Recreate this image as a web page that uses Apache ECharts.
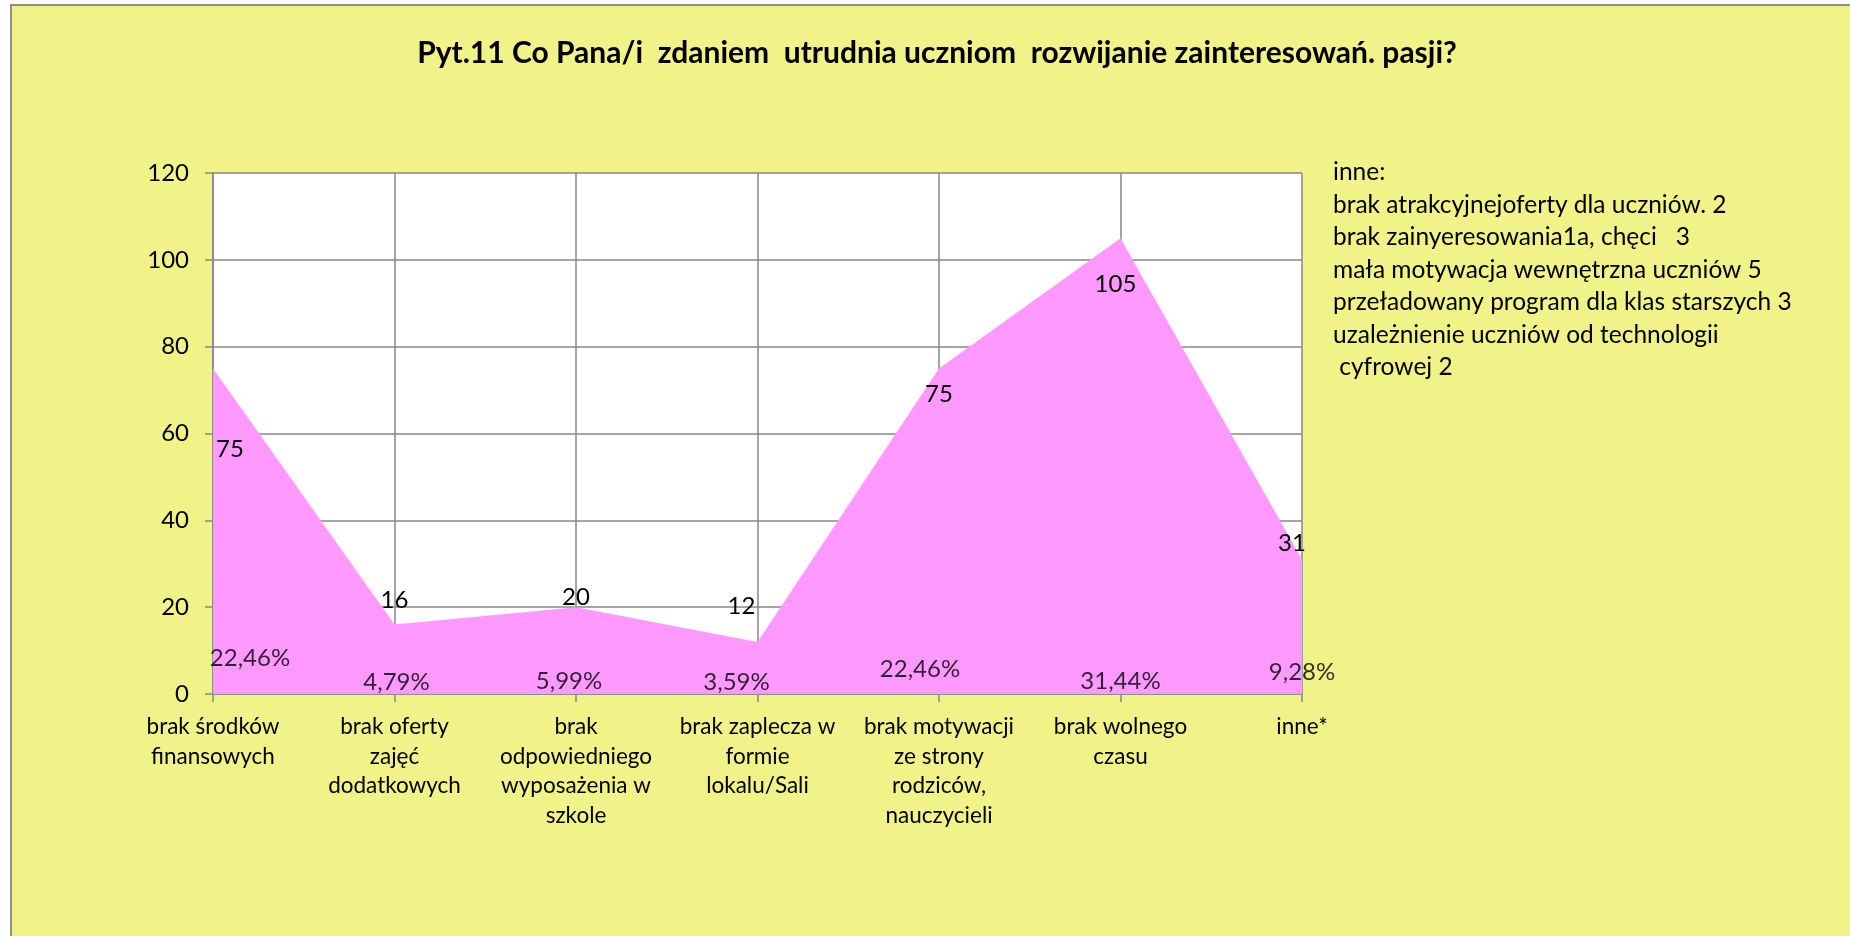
<!DOCTYPE html>
<html>
<head>
<meta charset="utf-8">
<script src="https://cdn.jsdelivr.net/npm/echarts@6/dist/echarts.min.js"></script>
<style>
  html, body { margin: 0; padding: 0; background: #ffffff; }
  #chart { width: 1850px; height: 936px; }
</style>
</head>
<body>
<div id="chart"></div>
<script>
// Survey question 11: obstacles to developing students' interests
const titleText = 'Pyt.11 Co Pana/i  zdaniem  utrudnia uczniom  rozwijanie zainteresowań. pasji?';

const categories = [
  'brak środków\nfinansowych',
  'brak oferty\nzajęć\ndodatkowych',
  'brak\nodpowiedniego\nwyposażenia w\nszkole',
  'brak zaplecza w\nformie\nlokalu/Sali',
  'brak motywacji\nze strony\nrodziców,\nnauczycieli',
  'brak wolnego\nczasu',
  'inne*'
];

const counts = [75, 16, 20, 12, 75, 105, 31];

const shares = ['22,46%', '4,79%', '5,99%', '3,59%', '22,46%', '31,44%', '9,28%'];

const yTicks = { min: 0, max: 120, interval: 20 };

const notes = [
  'inne:',
  'brak atrakcyjnejoferty dla uczniów. 2',
  'brak zainyeresowania1a, chęci   3',
  'mała motywacja wewnętrzna uczniów 5',
  'przeładowany program dla klas starszych 3',
  'uzależnienie uczniów od technologii',
  ' cyfrowej 2'
];

// label nudges (px) so the text sits where it reads best
const countLabelShift = [[17, 81], [0, -24], [0, -10], [-16, -36], [0, 26], [-5, 46], [-10, -16]];
const shareLabelShift = [[37, -36], [2, -12], [-7, -13], [-21, -12], [-19, -25], [0, -13], [0, -22]];

const FONT = 'Lato, "Open Sans", sans-serif';
const GRID_COLOR = '#878787';

const chart = echarts.init(document.getElementById('chart'), null, { renderer: 'canvas' });

chart.setOption({
  animation: false,
  backgroundColor: 'transparent',
  textStyle: { fontFamily: FONT },
  graphic: [
    {
      type: 'rect',
      z: -10,
      shape: { x: 11, y: 5, width: 1900, height: 1000 },
      style: { fill: '#F1F288', stroke: '#8E8E8E', lineWidth: 2 }
    },
    {
      type: 'text',
      left: 1333,
      top: 156,
      style: {
        text: notes.join('\n'),
        font: '24.5px ' + FONT,
        fill: '#000000',
        lineHeight: 32.5
      }
    }
  ],
  title: {
    text: titleText,
    left: 932,
    textAlign: 'center',
    top: 33,
    textStyle: { fontFamily: FONT, fontWeight: 'bold', fontSize: 30, color: '#000000' }
  },
  grid: { left: 213, right: 548, top: 173, bottom: 242, show: true, backgroundColor: '#ffffff', borderWidth: 0 },
  xAxis: {
    type: 'category',
    data: categories,
    boundaryGap: false,
    axisLine: { lineStyle: { color: GRID_COLOR, width: 1.5 } },
    axisTick: { show: true, length: 8, lineStyle: { color: GRID_COLOR, width: 1.5 } },
    splitLine: { show: true, lineStyle: { color: GRID_COLOR, width: 1.5 } },
    axisLabel: {
      interval: 0,
      margin: 18,
      color: '#000000',
      fontSize: 22.5,
      lineHeight: 29.5,
      fontFamily: FONT,
      align: 'center'
    }
  },
  yAxis: {
    type: 'value',
    min: yTicks.min,
    max: yTicks.max,
    interval: yTicks.interval,
    axisLine: { show: true, lineStyle: { color: GRID_COLOR, width: 1.5 } },
    axisTick: { show: true, length: 8, lineStyle: { color: GRID_COLOR, width: 1.5 } },
    splitLine: { show: true, lineStyle: { color: GRID_COLOR, width: 1.5 } },
    axisLabel: { margin: 24, color: '#000000', fontSize: 24, fontFamily: FONT }
  },
  series: [
    {
      name: 'liczba',
      type: 'line',
      data: counts.map((v, i) => ({
        value: v,
        label: { offset: countLabelShift[i] }
      })),
      symbol: 'circle',
      symbolSize: 1,
      showSymbol: true,
      itemStyle: { color: 'rgba(0,0,0,0)' },
      lineStyle: { width: 0, color: 'rgba(0,0,0,0)' },
      areaStyle: { color: '#FF99FF', opacity: 1 },
      z: 1,
      label: {
        show: true,
        position: 'inside',
        color: '#000000',
        fontSize: 24,
        fontFamily: FONT
      }
    },
    {
      name: 'procent',
      type: 'scatter',
      data: shares.map((s, i) => ({
        value: [i, 0],
        label: { offset: shareLabelShift[i], formatter: s }
      })),
      symbolSize: 1,
      itemStyle: { color: 'rgba(0,0,0,0)' },
      z: 3,
      label: {
        show: true,
        position: 'inside',
        color: '#000000',
        fontSize: 24,
        fontFamily: FONT
      }
    }
  ]
});
</script>
</body>
</html>
